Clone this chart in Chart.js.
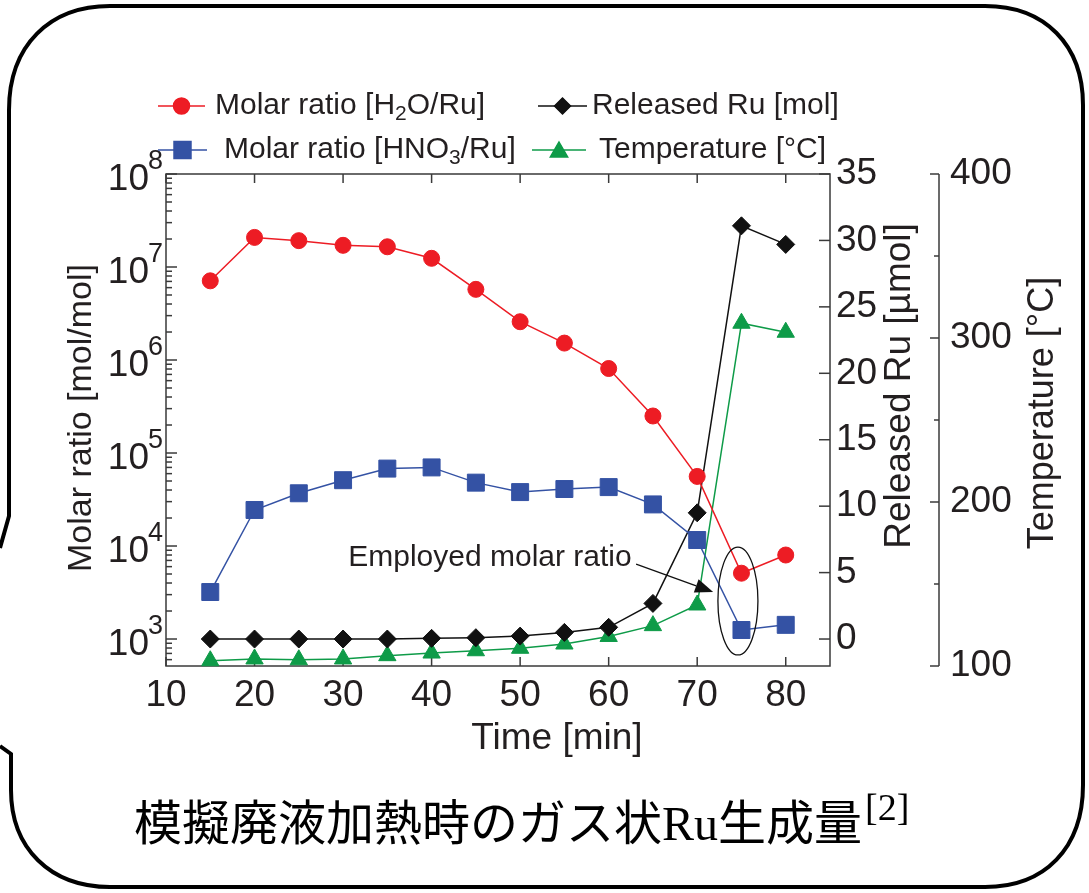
<!DOCTYPE html>
<html>
<head>
<meta charset="utf-8">
<script src="https://cdn.jsdelivr.net/npm/chart.js@4.4.0/dist/chart.umd.min.js"></script>
<style>
html, body { margin: 0; padding: 0; background: #fff; }
#wrap { width: 1089px; height: 893px; }
</style>
</head>
<body>
<div id="wrap"><canvas id="myChart" width="1089" height="893"></canvas></div>
<script>
// Data
var times = [15, 20, 25, 30, 35, 40, 45, 50, 55, 60, 65, 70, 75, 80];
var h2oRatio = [7.1e6, 2.08e7, 1.92e7, 1.71e7, 1.65e7, 1.24e7, 5.75e6, 2.58e6, 1.52e6, 8.1e5, 2.5e5, 5.6e4, 5.1e3, 8.0e3];
var hno3Ratio = [3.2e3, 2.44e4, 3.69e4, 5.1e4, 6.8e4, 7.0e4, 4.8e4, 3.8e4, 4.1e4, 4.3e4, 2.8e4, 1.16e4, 1.25e3, 1.42e3];
var releasedRu = [0, 0, 0, 0, 0, 0.05, 0.1, 0.22, 0.5, 0.88, 2.68, 9.5, 31.1, 29.7];
var temperature = [103.2, 104.3, 103.8, 104.3, 106.3, 107.9, 109.3, 110.8, 113.4, 118, 124.6, 137.2, 309, 303.5];

// Tick labels
var xTicks = [10, 20, 30, 40, 50, 60, 70, 80];
var logExponents = [3, 4, 5, 6, 7, 8];
var ruTicks = [0, 5, 10, 15, 20, 25, 30, 35];
var tempTicks = [100, 200, 300, 400];
var tempMinorTicks = [150, 250, 350];

var RED = '#ed1c24', BLUE = '#3452a4', BLACK = '#111111', GREEN = '#0e9b48';
var INK = '#231f20', AXIS = '#3a3a3a';
var SANS = '"Liberation Sans", Arial, sans-serif';

function pts(ys) {
    return times.map(function (t, i) { return { x: t, y: ys[i] }; });
}

// draw a text made of parts, some of them subscript / superscript
function drawRich(ctx, parts, x, y, size) {
    ctx.textAlign = 'left';
    ctx.textBaseline = 'middle';
    parts.forEach(function (p) {
        var s = p.sub ? size * 0.7 : size;
        ctx.font = s + 'px ' + SANS;
        ctx.fillText(p.t, x, y + (p.sub ? size * 0.28 : 0));
        x += ctx.measureText(p.t).width;
    });
}

function line(ctx, x1, y1, x2, y2) {
    ctx.beginPath();
    ctx.moveTo(x1, y1);
    ctx.lineTo(x2, y2);
    ctx.stroke();
}

function marker(ctx, style, color, x, y, r) {
    Chart.helpers.drawPoint(ctx, { pointStyle: style, radius: r, borderWidth: 1 }, x, y);
}

var decor = {
    id: 'decor',
    beforeDraw: function (chart) {
        var ctx = chart.ctx;
        ctx.save();
        ctx.fillStyle = '#fff';
        ctx.fillRect(0, 0, chart.width, chart.height);
        // speech-bubble frame
        ctx.strokeStyle = '#000';
        ctx.lineWidth = 4;
        ctx.beginPath();
        ctx.moveTo(0, 548);
        ctx.lineTo(9, 516);
        ctx.lineTo(9, 110);
        ctx.bezierCurveTo(9, 45, 50, 6, 110, 6);
        ctx.lineTo(985, 6);
        ctx.bezierCurveTo(1045, 6, 1083, 45, 1083, 105);
        ctx.lineTo(1083, 785);
        ctx.bezierCurveTo(1083, 848, 1045, 887, 985, 887);
        ctx.lineTo(110, 887);
        ctx.bezierCurveTo(50, 887, 11, 848, 11, 790);
        ctx.lineTo(11, 754);
        ctx.lineTo(0, 746);
        ctx.stroke();
        ctx.restore();
    },
    beforeDatasetsDraw: function (chart) {
        var ctx = chart.ctx, a = chart.chartArea, s = chart.scales;
        ctx.save();
        ctx.strokeStyle = AXIS;
        ctx.lineWidth = 1.5;
        ctx.strokeRect(a.left, a.top, a.right - a.left, a.bottom - a.top);
        // x ticks, bottom and top
        xTicks.forEach(function (v) {
            var px = s.x.getPixelForValue(v);
            line(ctx, px, a.bottom, px, a.bottom - 9);
            line(ctx, px, a.top, px, a.top + 9);
        });
        // log ticks on the left
        for (var e = 2; e <= 8; e++) {
            for (var m = 1; m <= 9; m++) {
                var v = m * Math.pow(10, e);
                if (v < s.y.min || v > s.y.max) continue;
                var py = s.y.getPixelForValue(v);
                line(ctx, a.left, py, a.left + (m === 1 ? 11 : 6), py);
            }
        }
        // released Ru ticks on the right, pointing in
        ruTicks.forEach(function (v) {
            var py = s.ru.getPixelForValue(v);
            line(ctx, a.right, py, a.right - 11, py);
        });
        // temperature axis
        var tl = s.temp.left;
        line(ctx, tl, a.top, tl, a.bottom);
        tempTicks.forEach(function (v) {
            var py = s.temp.getPixelForValue(v);
            line(ctx, tl, py, tl - 9, py);
        });
        tempMinorTicks.forEach(function (v) {
            var py = s.temp.getPixelForValue(v);
            line(ctx, tl, py, tl - 5, py);
        });
        ctx.restore();
    },
    afterDraw: function (chart) {
        var ctx = chart.ctx, a = chart.chartArea, s = chart.scales;
        ctx.save();
        ctx.fillStyle = INK;

        // log axis labels 10^n
        logExponents.forEach(function (e) {
            var py = s.y.getPixelForValue(Math.pow(10, e));
            ctx.font = '37px ' + SANS;
            ctx.textAlign = 'right';
            ctx.textBaseline = 'middle';
            ctx.fillText('10', a.left - 17, py + 6);
            ctx.font = '27px ' + SANS;
            ctx.textAlign = 'left';
            ctx.fillText(String(e), a.left - 18, py - 12);
        });

        // axis titles
        ctx.textAlign = 'center';
        ctx.textBaseline = 'middle';
        ctx.font = '37px ' + SANS;
        ctx.fillText('Time [min]', 557, 739);

        function vText(txt, x, y, size) {
            ctx.save();
            ctx.translate(x, y);
            ctx.rotate(-Math.PI / 2);
            ctx.font = size + 'px ' + SANS;
            ctx.fillText(txt, 0, 0);
            ctx.restore();
        }
        vText('Molar ratio [mol/mol]', 82, 418, 34);
        vText('Released Ru [\u00b5mol]', 900, 386, 37);
        vText('Temperature [\u00b0C]', 1043, 413, 36);

        // legend
        var legend = [
            { color: RED, style: 'circle', r: 8, x0: 158, x1: 205, tx: 215, y: 106,
              parts: [{ t: 'Molar ratio [H' }, { t: '2', sub: true }, { t: 'O/Ru]' }] },
            { color: BLACK, style: 'rectRot', r: 8, x0: 538, x1: 587, tx: 592, y: 106,
              parts: [{ t: 'Released Ru [mol]' }] },
            { color: BLUE, style: 'rect', r: 12, x0: 158, x1: 207, tx: 224, y: 150,
              parts: [{ t: 'Molar ratio [HNO' }, { t: '3', sub: true }, { t: '/Ru]' }] },
            { color: GREEN, style: 'triangle', r: 10, x0: 532, x1: 586, tx: 599, y: 150,
              parts: [{ t: 'Temperature [\u00b0C]' }] }
        ];
        legend.forEach(function (L) {
            ctx.strokeStyle = L.color;
            ctx.fillStyle = L.color;
            ctx.lineWidth = 1.5;
            line(ctx, L.x0, L.y, L.x1, L.y);
            var cy = L.style === 'triangle' ? L.y + 2 : L.y;
            Chart.helpers.drawPoint(ctx, { pointStyle: L.style, radius: L.r, borderWidth: 1 }, (L.x0 + L.x1) / 2, cy);
            ctx.fill();
            ctx.fillStyle = INK;
            drawRich(ctx, L.parts, L.tx, L.y, 30);
        });

        // annotation: ellipse, label and arrow (placed in data units)
        ctx.strokeStyle = '#111';
        ctx.fillStyle = '#111';
        ctx.lineWidth = 1.3;
        var ex = s.x.getPixelForValue(74.6), ey = s.ru.getPixelForValue(2.86);
        var erx = s.x.getPixelForValue(74.6 + 2.26) - ex;
        var ery = s.ru.getPixelForValue(2.86) - s.ru.getPixelForValue(2.86 + 4.06);
        ctx.beginPath();
        ctx.ellipse(ex, ey, erx, ery, 0, 0, Math.PI * 2);
        ctx.stroke();

        ctx.fillStyle = INK;
        ctx.font = '30px ' + SANS;
        ctx.textAlign = 'right';
        ctx.textBaseline = 'middle';
        ctx.fillText('Employed molar ratio', s.x.getPixelForValue(62.6), s.ru.getPixelForValue(6.1));

        var ax0 = s.x.getPixelForValue(63.1), ay0 = s.ru.getPixelForValue(5.64);
        var ax1 = s.x.getPixelForValue(71.8), ay1 = s.ru.getPixelForValue(3.54);
        var ang = Math.atan2(ay1 - ay0, ax1 - ax0);
        var hl = 18, hw = 7;
        var bx = ax1 - hl * Math.cos(ang), by = ay1 - hl * Math.sin(ang);
        ctx.strokeStyle = '#111';
        line(ctx, ax0, ay0, bx, by);
        ctx.fillStyle = '#111';
        ctx.beginPath();
        ctx.moveTo(ax1, ay1);
        ctx.lineTo(bx + hw * Math.sin(ang), by - hw * Math.cos(ang));
        ctx.lineTo(bx - hw * Math.sin(ang), by + hw * Math.cos(ang));
        ctx.closePath();
        ctx.fill();

        // caption
        ctx.fillStyle = '#000';
        ctx.textAlign = 'left';
        ctx.textBaseline = 'alphabetic';
        var cx = 134, cyb = 840;
        var cap = [
            { t: '\u6a21\u64ec\u5ec3\u6db2\u52a0\u71b1\u6642\u306e\u30ac\u30b9\u72b6', f: '48px "Noto Sans CJK JP"', dy: 0 },
            { t: 'Ru', f: '48px "Liberation Serif"', dy: 0 },
            { t: '\u751f\u6210\u91cf', f: '48px "Noto Sans CJK JP"', dy: 0 },
            { t: '[2]', f: '38px "Liberation Serif"', dy: -20 }
        ];
        cap.forEach(function (c) {
            ctx.font = c.f;
            ctx.fillText(c.t, cx, cyb + c.dy);
            cx += ctx.measureText(c.t).width + (c.t === '\u751f\u6210\u91cf' ? 3 : 0);
        });
        ctx.restore();
    }
};

var tickFont = { family: SANS, size: 37 };

var ctx = document.getElementById('myChart').getContext('2d');
var myChart = new Chart(ctx, {
    type: 'line',
    data: {
        datasets: [
            {
                label: 'Molar ratio [H2O/Ru]',
                data: pts(h2oRatio),
                yAxisID: 'y',
                borderColor: RED, backgroundColor: RED,
                borderWidth: 1.5, pointStyle: 'circle', pointRadius: 8,
                pointBorderWidth: 1, pointBorderColor: RED
            },
            {
                label: 'Molar ratio [HNO3/Ru]',
                data: pts(hno3Ratio),
                yAxisID: 'y',
                borderColor: BLUE, backgroundColor: BLUE,
                borderWidth: 1.5, pointStyle: 'rect', pointRadius: 12,
                pointBorderWidth: 1, pointBorderColor: BLUE
            },
            {
                label: 'Released Ru [mol]',
                data: pts(releasedRu),
                yAxisID: 'ru',
                borderColor: BLACK, backgroundColor: BLACK,
                borderWidth: 1.5, pointStyle: 'rectRot', pointRadius: 9,
                pointBorderWidth: 1, pointBorderColor: BLACK
            },
            {
                label: 'Temperature [\u00b0C]',
                data: pts(temperature),
                yAxisID: 'temp',
                borderColor: GREEN, backgroundColor: GREEN,
                borderWidth: 1.5, pointStyle: 'triangle', pointRadius: 10,
                pointBorderWidth: 1, pointBorderColor: GREEN
            }
        ]
    },
    options: {
        responsive: false,
        animation: false,
        devicePixelRatio: 1,
        clip: false,
        layout: { padding: { top: 174, left: 0, right: 0, bottom: 0 } },
        plugins: { legend: { display: false }, tooltip: { enabled: false } },
        elements: { line: { tension: 0 } },
        scales: {
            x: {
                type: 'linear', position: 'bottom', min: 10, max: 85,
                afterBuildTicks: function (sc) { sc.ticks = xTicks.map(function (v) { return { value: v }; }); },
                afterFit: function (sc) { sc.height = 227; },
                grid: { display: false, drawTicks: false },
                border: { display: false },
                ticks: { font: tickFont, color: INK, padding: 8, maxRotation: 0 }
            },
            y: {
                type: 'logarithmic', position: 'left', min: 512.6, max: 1e8,
                afterFit: function (sc) { sc.width = 166; },
                grid: { display: false, drawTicks: false },
                border: { display: false },
                ticks: { display: false }
            },
            ru: {
                type: 'linear', position: 'right', min: -2.03, max: 35,
                afterBuildTicks: function (sc) { sc.ticks = ruTicks.map(function (v) { return { value: v }; }); },
                afterFit: function (sc) { sc.width = 109; },
                grid: { display: false, drawTicks: false },
                border: { display: false },
                ticks: { font: tickFont, color: INK, padding: 6 }
            },
            temp: {
                type: 'linear', position: 'right', min: 100, max: 400,
                afterBuildTicks: function (sc) { sc.ticks = tempTicks.map(function (v) { return { value: v }; }); },
                afterFit: function (sc) { sc.width = 150; },
                grid: { display: false, drawTicks: false },
                border: { display: false },
                ticks: { font: tickFont, color: INK, padding: 11 }
            }
        }
    },
    plugins: [decor]
});
</script>
</body>
</html>
